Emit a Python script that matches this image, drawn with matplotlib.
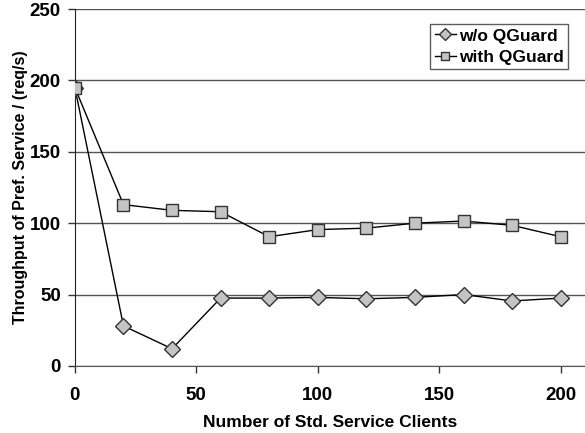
import matplotlib.pyplot as plt

plt.rcParams['font.family'] = ['Liberation Sans', 'DejaVu Sans']
plt.rcParams['font.weight'] = 'bold'

clientes = [0, 20, 40, 60, 80, 100, 120, 140, 160, 180, 200]
sin_qguard = [195, 28, 12, 47.5, 47.5, 48, 47, 48, 50, 45.5, 47.5]
con_qguard = [195, 113, 109, 108, 90.5, 95.5, 96.5, 100, 101.5, 98.5, 90.5]

fig = plt.figure(figsize=(5.85, 4.33), dpi=100)
ax = fig.add_axes([0.128, 0.155, 0.872, 0.824])

ax.plot(clientes, sin_qguard, color='black', lw=1, marker='D', markersize=8,
        markerfacecolor='#c4c4c4', markeredgecolor='#333333', label='w/o QGuard', zorder=3)
ax.plot(clientes, con_qguard, color='black', lw=1, marker='s', markersize=8.5,
        markerfacecolor='#c4c4c4', markeredgecolor='#333333', label='with QGuard', zorder=3)

ax.set_xlim(0, 210)
ax.set_ylim(0, 250)
ax.set_xticks([0, 50, 100, 150, 200])
ax.set_yticks([0, 50, 100, 150, 200, 250])
ax.yaxis.grid(True, color='#555555', lw=1)
ax.set_axisbelow(True)
for lado in ['top', 'right']:
    ax.spines[lado].set_visible(False)
ax.spines['left'].set_color('#222222')
ax.spines['bottom'].set_color('#555555')
ax.tick_params(labelsize=13.5, length=5, width=1, color='#333333', pad=5)
ax.tick_params(axis='x', pad=10)

ax.set_xlabel('Number of Std. Service Clients', fontsize=12.5, fontweight='bold', labelpad=8)
ax.set_ylabel('Throughput of Pref. Service / (req/s)', fontsize=11.5, fontweight='bold', labelpad=1)

leg = ax.legend(loc='upper right', bbox_to_anchor=(0.967, 0.958), fontsize=12.5, frameon=True,
                fancybox=False, edgecolor='#333333', handlelength=1.2, handletextpad=0.2,
                borderpad=0.25, labelspacing=0.35, borderaxespad=0, markerscale=0.75)
leg.get_frame().set_linewidth(1)

fig.savefig('out.png', dpi=100)
